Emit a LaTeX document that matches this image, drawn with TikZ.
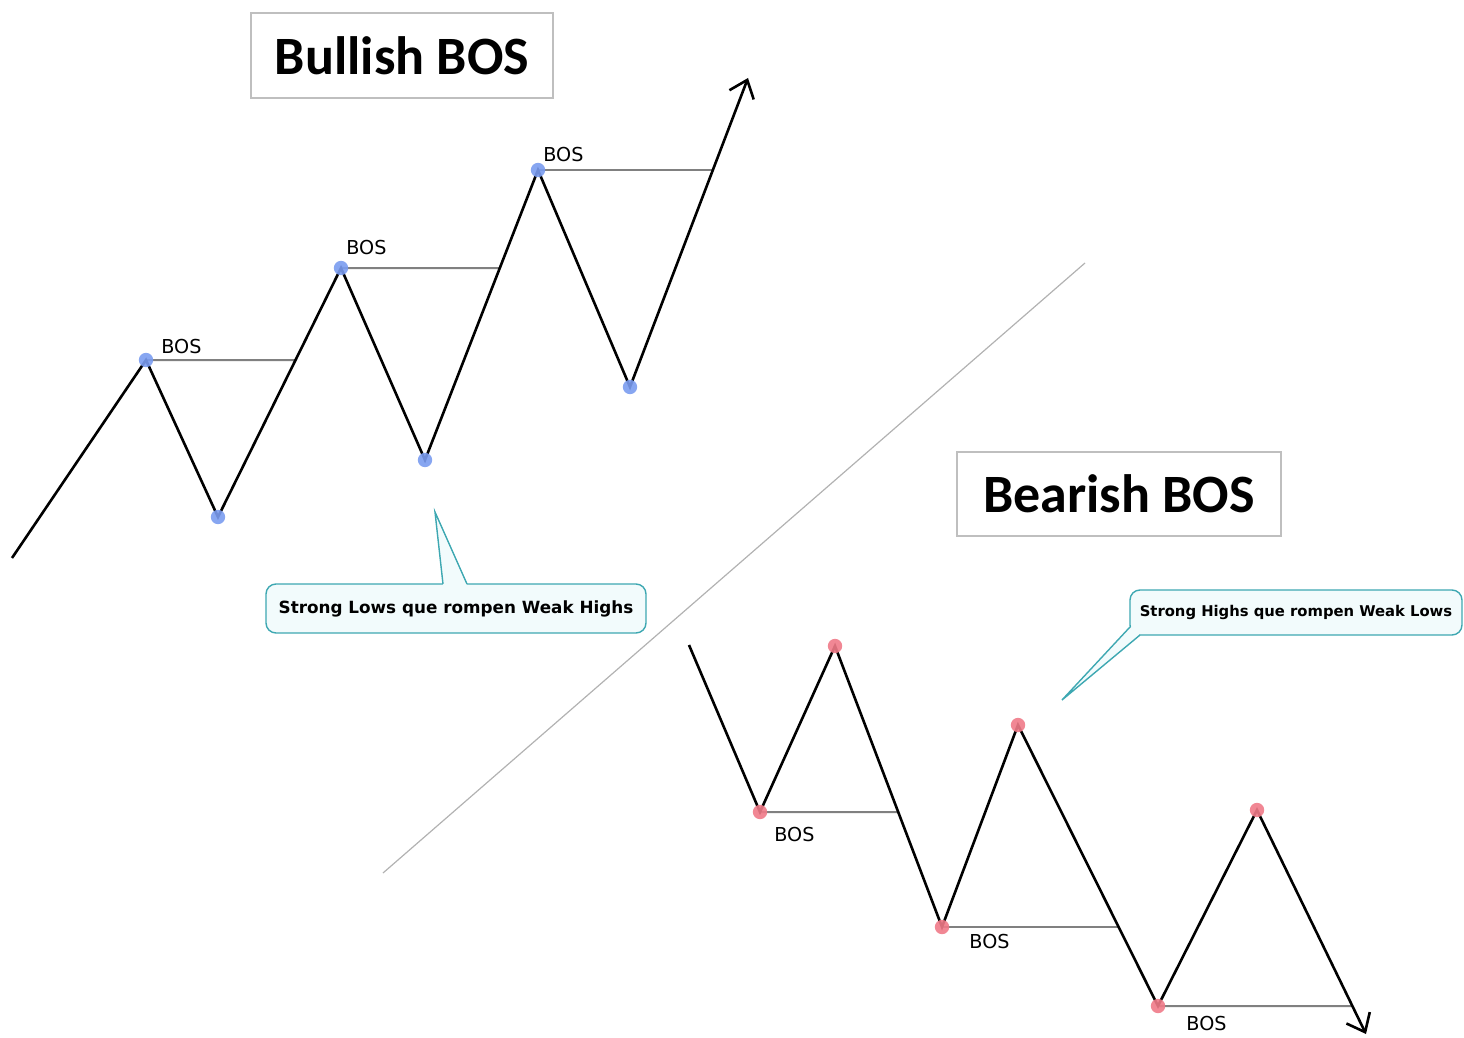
\documentclass[tikz,border=0pt]{standalone}
\usepackage{fontspec}
\setmainfont{DejaVu Sans}
\newfontfamily\titlefont{Carlito}
\usetikzlibrary{arrows.meta,calc}

\definecolor{bulldot}{RGB}{122,156,240}
\definecolor{beardot}{RGB}{240,122,136}
\definecolor{noteline}{RGB}{62,168,178}
\definecolor{notefill}{RGB}{242,251,252}

\begin{document}
\begin{tikzpicture}[x=0.5pt,y=-0.5pt,>={Straight Barb[length=8pt,width=13pt]},
	swing/.style={line width=1.3pt},
	bosline/.style={color=black!50,line width=1pt},
	boslabel/.style={font=\fontsize{9.6}{11}\selectfont,inner sep=0pt,anchor=base west},
	titlebox/.style={draw=black!25,line width=0.6pt,font=\titlefont\bfseries\fontsize{27}{30}\selectfont},
	notebox/.style={draw=noteline,fill=notefill,line width=0.7pt,rounded corners=5pt,inner sep=0pt},
	]

\useasboundingbox (0,0) rectangle (1464,1038);

\draw[color=black!30,line width=0.6pt] (383,873)--(1085,263);

\node[titlebox,minimum width=151pt,minimum height=42.5pt] (bulltitle) at (402,55.5) {Bullish BOS};
\node[titlebox,minimum width=162pt,minimum height=42pt] (beartitle) at (1119,494) {Bearish BOS};

\coordinate (u0) at (12,558);
\coordinate (uH1) at (146,360);
\coordinate (uL1) at (218,517);
\coordinate (uH2) at (341,268);
\coordinate (uL2) at (425,460);
\coordinate (uH3) at (538,170);
\coordinate (uL3) at (630,387);
\coordinate (uE) at (748,78);

\coordinate (uh1) at (uH2 |- uH1);
\coordinate (uh2) at (uH3 |- uH2);
\coordinate (uh3) at (uE |- uH3);

\draw[bosline] (uH1)--(intersection of uL1--uH2 and uH1--uh1);
\draw[bosline] (uH2)--(intersection of uL2--uH3 and uH2--uh2);
\draw[bosline] (uH3)--(intersection of uL3--uE and uH3--uh3);

\draw[swing,->] (u0)--(uH1)--(uL1)--(uH2)--(uL2)--(uH3)--(uL3)--(uE);

\foreach \p in {uH1,uL1,uH2,uL2,uH3,uL3}
	\fill[bulldot,opacity=0.9] (\p) circle[radius=3.6pt];

\node[boslabel] (ubos1) at (161,353) {BOS};
\node[boslabel] (ubos2) at (346,255) {BOS};
\node[boslabel] (ubos3) at (543,162) {BOS};

\coordinate (d0) at (689,645);
\coordinate (dL1) at (760,812);
\coordinate (dH1) at (835,646);
\coordinate (dL2) at (942,927);
\coordinate (dH2) at (1018,725);
\coordinate (dL3) at (1158,1006);
\coordinate (dH3) at (1257,810);
\coordinate (dE) at (1366,1034);

\coordinate (dl1) at (dL2 |- dL1);
\coordinate (dl2) at (dL3 |- dL2);
\coordinate (dl3) at (dE |- dL3);

\draw[bosline] (dL1)--(intersection of dH1--dL2 and dL1--dl1);
\draw[bosline] (dL2)--(intersection of dH2--dL3 and dL2--dl2);
\draw[bosline] (dL3)--(intersection of dH3--dE and dL3--dl3);

\draw[swing,->] (d0)--(dL1)--(dH1)--(dL2)--(dH2)--(dL3)--(dH3)--(dE);

\foreach \p in {dL1,dH1,dL2,dH2,dL3,dH3}
	\fill[beardot,opacity=0.9] (\p) circle[radius=3.6pt];

\node[boslabel] (dbos1) at (774,841) {BOS};
\node[boslabel] (dbos2) at (969,948) {BOS};
\node[boslabel] (dbos3) at (1186,1030) {BOS};

\node[notebox,minimum width=190pt,minimum height=24.5pt,font=\bfseries\fontsize{8.4}{10}\selectfont] (bullnote) at (456,608.5) {Strong Lows que rompen Weak Highs};
\coordinate (bulltip) at (435,512);
\fill[notefill] (443,585)--(bulltip)--(467,585)--(467,587)--(443,587)--cycle;
\draw[color=noteline,line width=0.7pt] (443,584)--(bulltip)--(467,584);

\node[notebox,minimum width=166pt,minimum height=22.5pt,font=\bfseries\fontsize{7.4}{9}\selectfont] (bearnote) at (1296,612.5) {Strong Highs que rompen Weak Lows};
\coordinate (beartip) at (1062,700);
\fill[notefill] (1131,627)--(beartip)--(1140,634)--(1140,632)--(1132,626)--cycle;
\draw[color=noteline,line width=0.7pt] (1130,627)--(beartip)--(1140,635);

\end{tikzpicture}
\end{document}
